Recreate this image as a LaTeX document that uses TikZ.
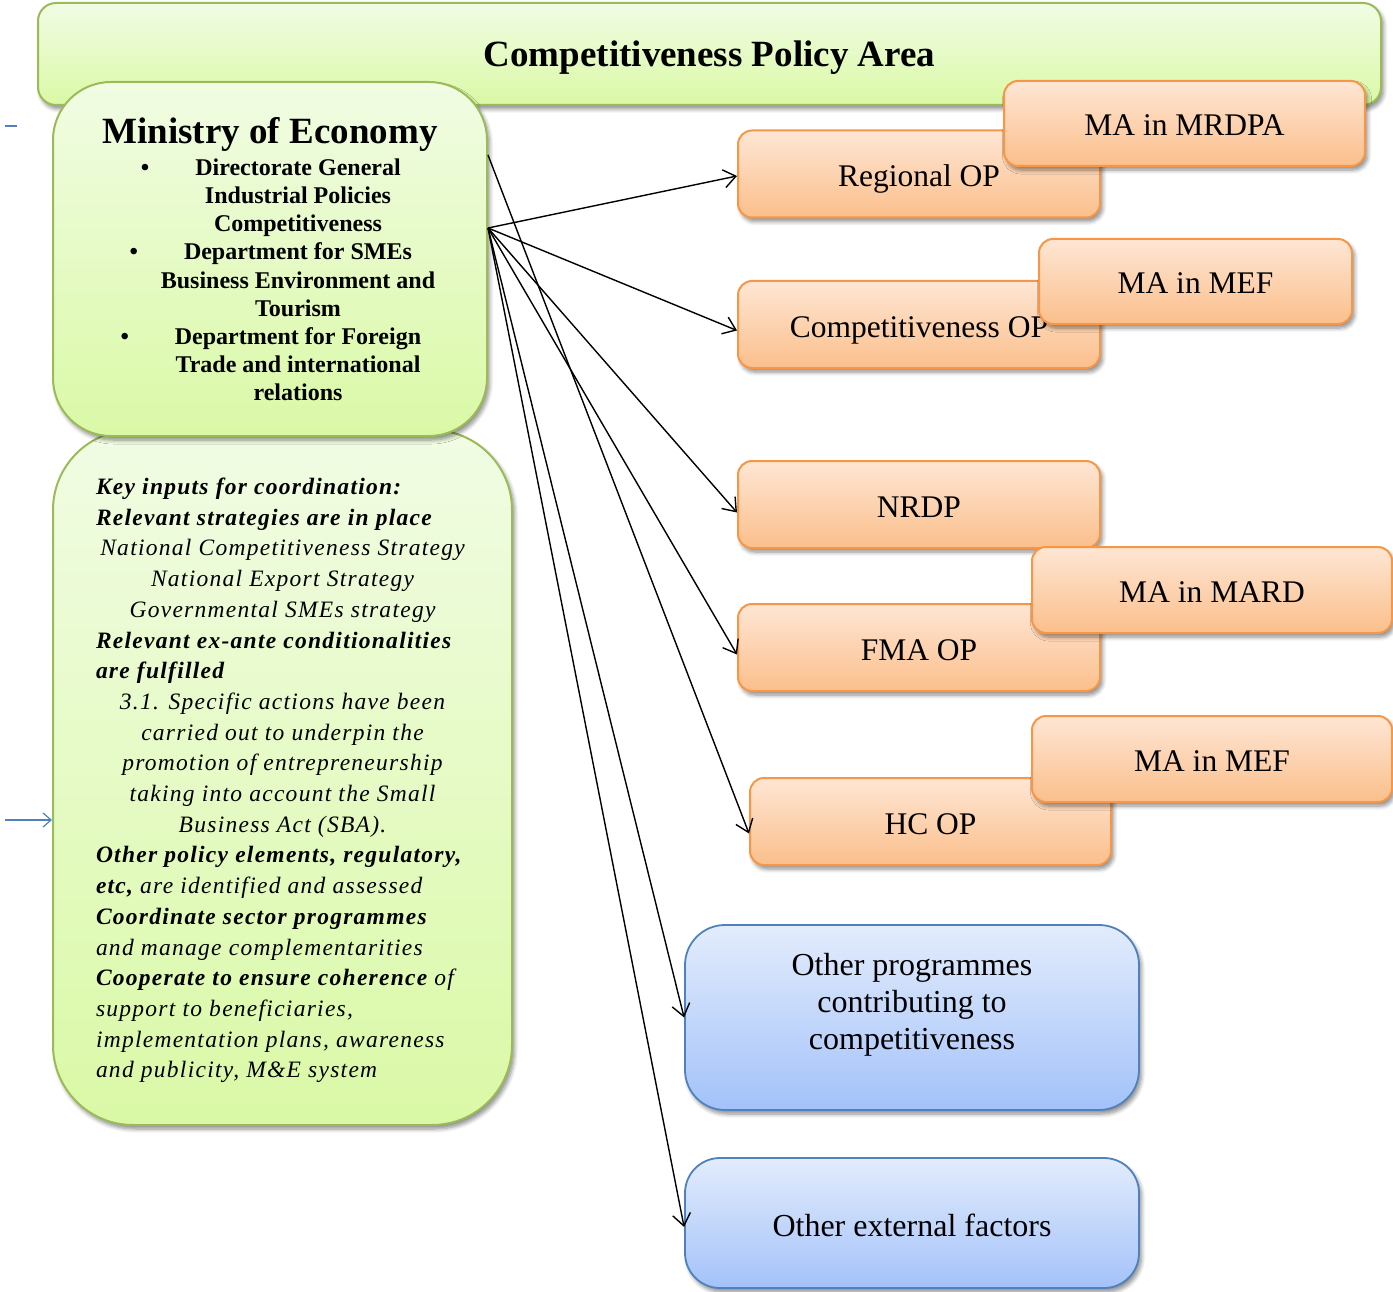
\documentclass[tikz,border=0pt]{standalone}
\usepackage{fontspec}
\setmainfont{Liberation Serif}
\newfontfamily\keyfont[LetterSpace=5.4]{Liberation Serif}
\usetikzlibrary{arrows.meta,shadows.blur,calc}
\definecolor{gborder}{HTML}{9BBB59}
\definecolor{gtop}{HTML}{F1FCE4}
\definecolor{gbot}{HTML}{DAF9A6}
\definecolor{oborder}{HTML}{F79646}
\definecolor{otop}{HTML}{FEE6D4}
\definecolor{obot}{HTML}{FBBF8C}
\definecolor{bborder}{HTML}{4F81BD}
\definecolor{btop}{HTML}{E3ECFC}
\definecolor{bbot}{HTML}{A3C2FA}
\newcommand\KL[1]{\hbox to 373pt{#1\hss}}
\newcommand\KC[1]{\hbox to 373pt{\hss#1\hss}}
\newcommand\ML[1]{\hbox to 434pt{\hss\hskip56pt #1\hss}}
\newcommand\MBL[1]{\ML{\llap{\textbullet\hskip46pt}#1}}
\newcommand\BC[1]{\hbox to 454pt{\hss#1\hss}}
\tikzset{
 shad/.style={blur shadow={shadow xshift=2.5pt, shadow yshift=-4pt, shadow blur radius=4pt, shadow blur steps=6, shadow opacity=45}},
 greenbox/.style={shad, draw=gborder, line width=2pt, top color=gtop, bottom color=gbot, inner sep=0pt},
 orangebox/.style={shad, draw=oborder, line width=2pt, top color=otop, bottom color=obot, rounded corners=14pt, minimum width=362pt, minimum height=87pt, font=\fontsize{31.5}{36}\selectfont, inner sep=0pt, text height=25pt, text depth=0pt},
 bluebox/.style={shad, draw=bborder, line width=1.8pt, top color=btop, bottom color=bbot, minimum width=454pt, font=\fontsize{32}{37}\selectfont, inner sep=0pt},
 conn/.style={line width=1.4pt, -{Straight Barb[length=12pt,width=18pt]}},
 blueconn/.style={draw=bborder, line width=1.2pt},
}
\begin{document}
\begin{tikzpicture}[x=1pt,y=-1pt]
\useasboundingbox (0,0) rectangle (1393,1292);
% title bar
\node[greenbox, rounded corners=18pt, minimum width=1343pt, minimum height=102pt, font=\fontsize{37}{44}\selectfont\bfseries, text height=26pt, text depth=0pt] (title) at (709.5,54) {Competitiveness Policy Area};
% key inputs
\node[greenbox, rounded corners=80pt, minimum width=459pt, minimum height=695pt] (key) at (282.5,777.5) {\vbox{\keyfont\itshape\fontsize{23.5}{30.7}\selectfont
\vskip6pt
\KL{\bfseries Key inputs for coordination:}
\KL{\bfseries Relevant strategies are in place}
\KC{National Competitiveness Strategy}
\KC{National Export Strategy}
\KC{Governmental SMEs strategy}
\KL{\bfseries Relevant ex-ante conditionalities}
\KL{\bfseries are fulfilled}
\KC{3.1. Specific actions have been}
\KC{carried out to underpin the}
\KC{promotion of entrepreneurship}
\KC{taking into account the Small}
\KC{Business Act (SBA).}
\KL{\bfseries Other policy elements, regulatory,}
\KL{\textbf{etc,} are identified and assessed}
\KL{\bfseries Coordinate sector programmes}
\KL{and manage complementarities}
\KL{\textbf{Cooperate to ensure coherence} of}
\KL{support to beneficiaries,}
\KL{implementation plans, awareness}
\KL{and publicity, M\&E system}}};
% ministry
\node[greenbox, rounded corners=58pt, minimum width=434pt, minimum height=354pt] (min) at (270,259) {\vbox{\fontsize{24}{28.2}\selectfont\bfseries
\hbox to 434pt{\hss\fontsize{37}{37}\selectfont Ministry of Economy\hss}
\vskip4pt
\MBL{Directorate General}
\ML{Industrial Policies}
\ML{Competitiveness}
\MBL{Department for SMEs}
\ML{Business Environment and}
\ML{Tourism}
\MBL{Department for Foreign}
\ML{Trade and international}
\ML{relations}}};
% orange boxes
\node[orangebox] (reg) at (919,174) {Regional OP};
\node[orangebox, minimum width=361pt, minimum height=85pt] (mrdpa) at (1184.5,123.5) {MA in MRDPA};
\node[orangebox] (comp) at (919,324.5) {Competitiveness OP};
\node[orangebox, minimum width=313pt, minimum height=85pt] (mef1) at (1195.5,281.5) {MA in MEF};
\node[orangebox] (nrdp) at (919,504.5) {NRDP};
\node[orangebox] (fma) at (919,647.5) {FMA OP};
\node[orangebox, minimum width=360pt, minimum height=86pt] (mard) at (1212,590) {MA in MARD};
\node[orangebox, minimum width=361pt] (hc) at (930.5,821.5) {HC OP};
\node[orangebox, minimum width=360pt, minimum height=86pt] (mef2) at (1212,759) {MA in MEF};
% blue boxes
\node[bluebox, rounded corners=40pt, minimum height=185pt] (oth) at (912,1017.5) {\vbox{\BC{Other programmes}\BC{contributing to}\BC{competitiveness}\vskip26pt}};
\node[bluebox, rounded corners=35pt, minimum height=130pt, text height=27pt, text depth=0pt] (ext) at (912,1223) {Other external factors};
% connectors
\coordinate (s1) at ($(min.east)+(0,-31)$);
\coordinate (s2) at ($(min.east)+(0,-104)$);
\draw[conn] (s1) -- ($(reg.west)+(0,2)$);
\draw[conn] (s1) -- ($(comp.west)+(0,6)$);
\draw[conn] (s1) -- ($(nrdp.west)+(0,8)$);
\draw[conn] (s1) -- ($(fma.west)+(0,7)$);
\draw[conn] (s2) -- ($(hc.west)+(0,12)$);
\draw[conn] (s1) -- (oth.west);
\draw[conn] (s1) -- ($(ext.west)+(0,4)$);
% blue marks at left
\coordinate (bd1) at (5,126);
\coordinate (bd2) at (17,126);
\draw[blueconn] (bd1) -- (bd2);
\coordinate (bin) at (5,820);
\draw[blueconn, -{Straight Barb[length=8pt,width=14pt]}] (bin) -- (bin -| key.west);
\end{tikzpicture}
\end{document}
